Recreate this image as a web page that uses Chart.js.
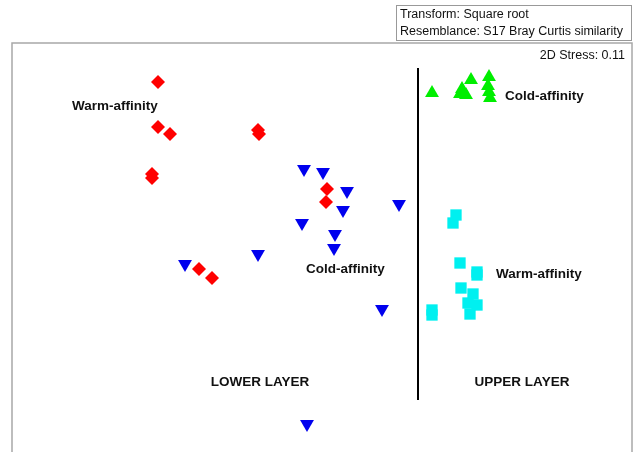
<!DOCTYPE html>
<html>
<head>
<meta charset="utf-8">
<script src="https://cdn.jsdelivr.net/npm/chart.js@4"></script>
<style>
  body { margin: 0; background: #fff; }
  #wrap { width: 636px; height: 452px; position: relative; }
</style>
</head>
<body>
<div id="wrap"><canvas id="mds"></canvas></div>
<script>
// nMDS ordination coordinates (plot units)
const lowerWarmX = [158, 158, 170, 258, 259, 152, 152, 327, 326, 199, 212];
const lowerWarmY = [82, 127, 134, 130, 134, 174, 178, 189, 202, 269, 278];

const lowerColdX = [304, 323, 347, 399, 343, 302, 335, 334, 258, 185, 382, 307];
const lowerColdY = [169, 172, 191, 204, 210, 223, 234, 248, 254, 264, 309, 424];

const upperColdX = [432, 460, 466, 471, 462, 489, 488, 489, 490];
const upperColdY = [93, 94, 95, 80, 89, 77, 86, 92, 98];

const upperWarmX = [456, 453, 460, 477, 477, 461, 473, 468, 477, 470, 432, 432];
const upperWarmY = [215, 223, 263, 272, 275, 288, 294, 303, 305, 314, 310, 315];

// layer separator
const dividerX = [418, 418];
const dividerY = [68, 400];

// text annotations
const groupLabels = [
  { text: "Warm-affinity", x: 72, y: 106, align: "left" },
  { text: "Cold-affinity", x: 306, y: 269, align: "left" },
  { text: "Cold-affinity", x: 505, y: 96, align: "left" },
  { text: "Warm-affinity", x: 496, y: 274, align: "left" },
  { text: "LOWER LAYER", x: 260, y: 382, align: "center" },
  { text: "UPPER LAYER", x: 522, y: 382, align: "center" }
];
const infoLines = ["Transform: Square root", "Resemblance: S17 Bray Curtis similarity"];
const stressText = "2D Stress: 0.11";

function toPoints(xs, ys) {
  return xs.map((x, i) => ({ x: x, y: ys[i] }));
}

const decorPlugin = {
  id: 'decor',
  beforeDatasetsDraw(chart) {
    const ctx = chart.ctx;
    ctx.save();
    // plot frame
    ctx.strokeStyle = '#a8a8a8';
    ctx.lineWidth = 1.5;
    ctx.strokeRect(12, 43, 620, 420);
    // info box
    ctx.strokeStyle = '#999';
    ctx.lineWidth = 1;
    ctx.strokeRect(396.5, 5.5, 235, 35);
    ctx.fillStyle = '#111';
    ctx.font = '12.5px "Liberation Sans", Arial, sans-serif';
    ctx.textBaseline = 'middle';
    ctx.textAlign = 'left';
    ctx.fillText(infoLines[0], 400, 15);
    ctx.fillText(infoLines[1], 400, 32);
    ctx.textAlign = 'right';
    ctx.fillText(stressText, 625, 56);
    ctx.restore();
  },
  afterDatasetsDraw(chart) {
    const ctx = chart.ctx;
    const xs = chart.scales.x, ys = chart.scales.y;
    ctx.save();
    ctx.fillStyle = '#111';
    ctx.font = 'bold 13.5px "Liberation Sans", Arial, sans-serif';
    ctx.textBaseline = 'middle';
    groupLabels.forEach(l => {
      ctx.textAlign = l.align;
      ctx.fillText(l.text, xs.getPixelForValue(l.x), ys.getPixelForValue(l.y));
    });
    ctx.restore();
  }
};

new Chart(document.getElementById('mds'), {
  type: 'scatter',
  data: {
    datasets: [
      {
        label: 'Divider',
        type: 'line',
        data: toPoints(dividerX, dividerY),
        borderColor: '#000',
        borderWidth: 2,
        pointRadius: 0
      },
      {
        label: 'Lower warm-affinity',
        data: toPoints(lowerWarmX, lowerWarmY),
        pointStyle: 'rectRot',
        pointRadius: 7,
        backgroundColor: '#ff0000',
        borderWidth: 0
      },
      {
        label: 'Lower cold-affinity',
        data: toPoints(lowerColdX, lowerColdY),
        pointStyle: 'triangle',
        rotation: 180,
        pointRadius: 8,
        backgroundColor: '#0000ee',
        borderWidth: 0
      },
      {
        label: 'Upper cold-affinity',
        data: toPoints(upperColdX, upperColdY),
        pointStyle: 'triangle',
        pointRadius: 8,
        backgroundColor: '#00ee00',
        borderWidth: 0
      },
      {
        label: 'Upper warm-affinity',
        data: toPoints(upperWarmX, upperWarmY),
        pointStyle: 'rect',
        pointRadius: 8,
        backgroundColor: '#00f0f0',
        borderWidth: 0
      }
    ]
  },
  options: {
    responsive: true,
    maintainAspectRatio: false,
    animation: false,
    layout: { padding: 0, autoPadding: false },
    plugins: { legend: { display: false }, tooltip: { enabled: false } },
    scales: {
      x: { type: 'linear', min: 0, max: 636, display: false },
      y: { type: 'linear', min: 0, max: 452, reverse: true, display: false }
    }
  },
  plugins: [decorPlugin]
});
</script>
</body>
</html>
